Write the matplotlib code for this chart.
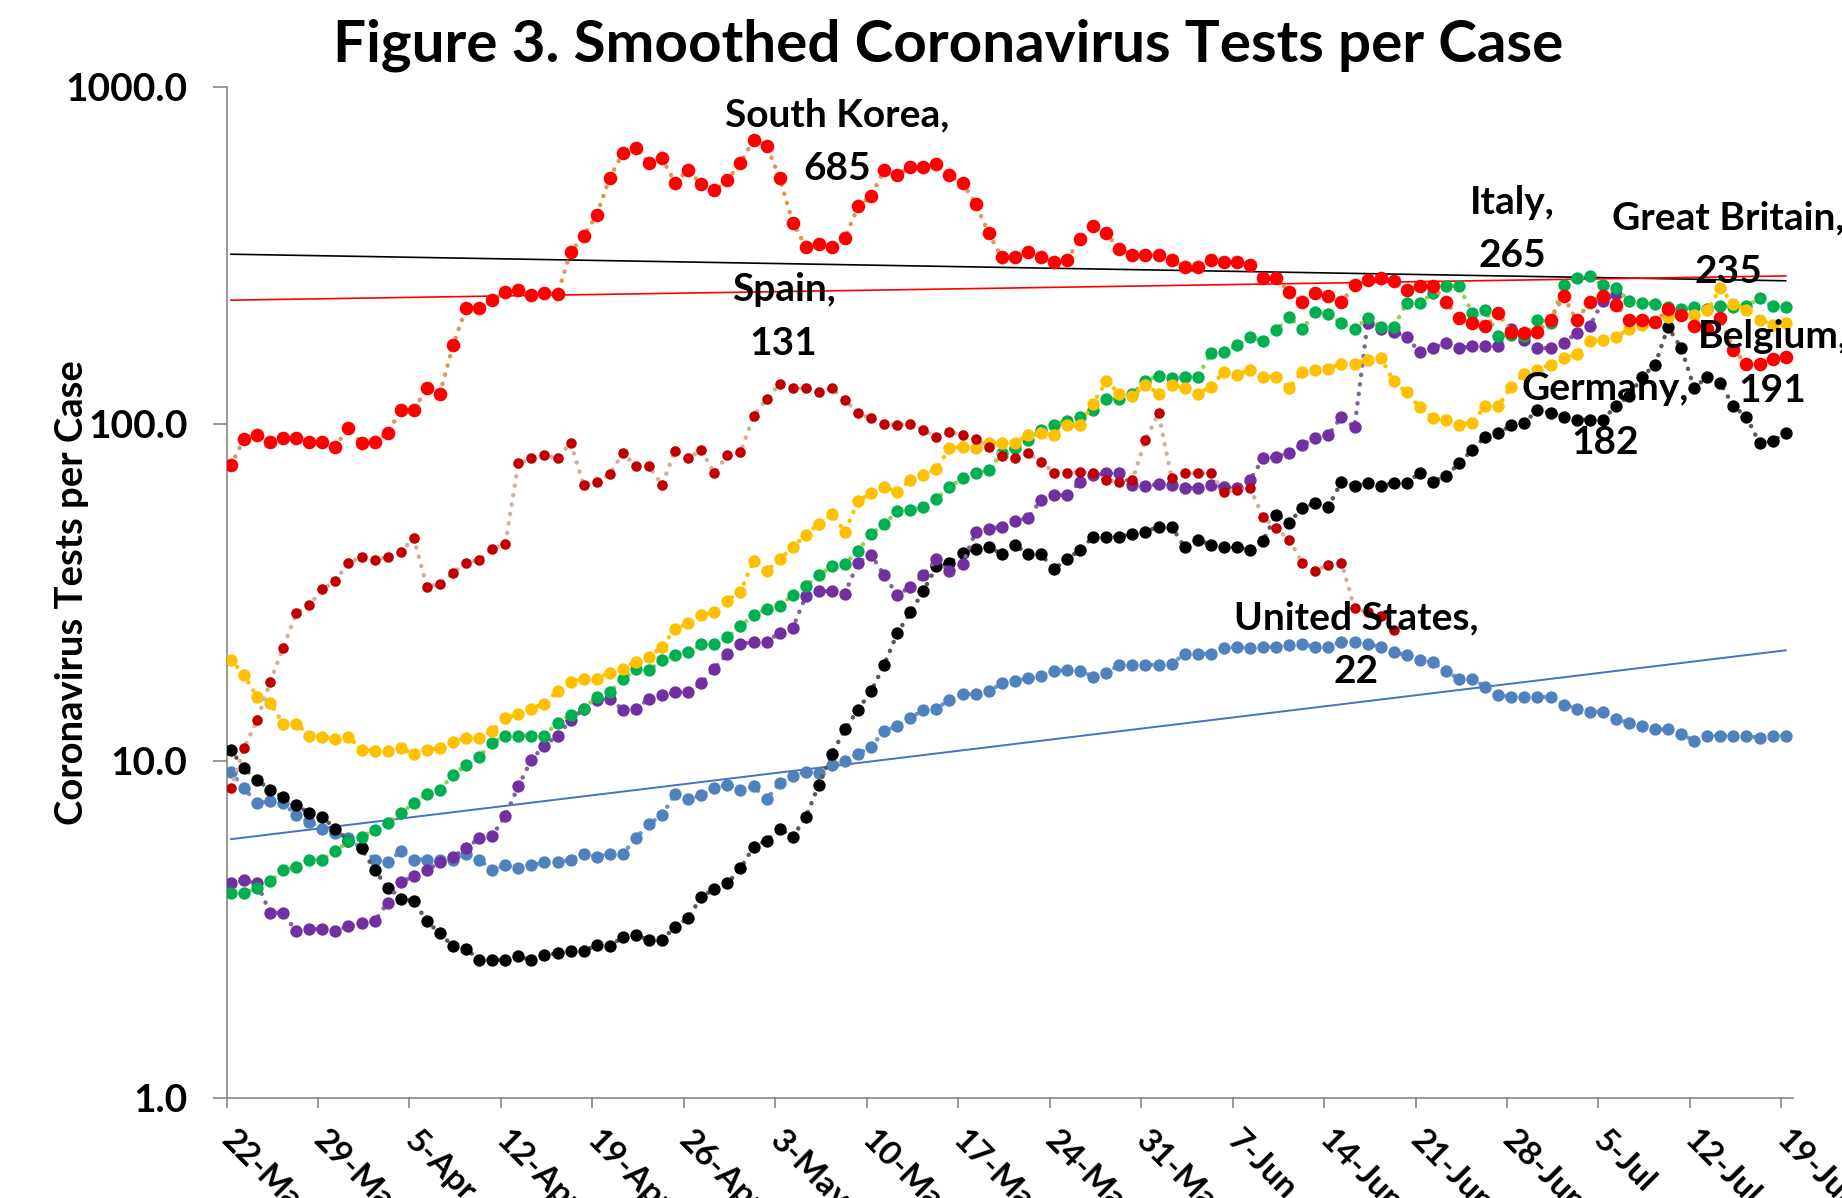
import matplotlib
matplotlib.use("Agg")
import matplotlib.pyplot as plt
import numpy as np
from matplotlib.ticker import NullLocator

plt.rcParams['font.family'] = ['Lato', 'DejaVu Sans']
plt.rcParams['font.weight'] = 'bold'

# x tick labels, one every 7 days from 22-Mar
date_labels = ['22-Mar', '29-Mar', '5-Apr', '12-Apr', '19-Apr', '26-Apr', '3-May',
               '10-May', '17-May', '24-May', '31-May', '7-Jun', '14-Jun', '21-Jun',
               '28-Jun', '5-Jul', '12-Jul', '19-Jul']

# smoothed tests per case, one value per day starting 22-Mar
south_korea = [75.5, 90, 92.8, 88.6, 90.8, 90.8, 88.6, 88.6, 85.7, 97.6,
               87.6, 88.6, 93.8, 110, 110, 128, 123, 171, 221, 221,
               233, 247, 250, 241, 245, 243, 323, 362, 417, 538,
               636, 661, 594, 614, 520, 567, 514, 493, 530, 594,
               697, 670, 538, 396, 336, 341, 336, 356, 442, 475,
               567, 548, 580, 580, 590, 548, 520, 450, 368, 312,
               312, 323, 312, 303, 307, 354, 388, 368, 330, 317,
               317, 317, 307, 293, 293, 307, 302, 302, 296, 271,
               271, 247, 230, 245, 239, 230, 258, 267, 271, 265,
               250, 257, 257, 230, 206, 199, 195, 213, 188, 186,
               188, 204, 239, 203, 230, 239, 225, 204, 204, 201,
               219, 211, 195, 192, 206, 166, 151, 151, 156, 158]

spain = [8.3, 10.9, 13.2, 17.1, 21.7, 27.4, 29.0, 32.3, 34.2, 38.8,
         40.2, 39.5, 40.2, 41.8, 45.8, 32.9, 33.5, 36.1, 38.8, 39.5,
         42.5, 44.0, 76.4, 79.0, 80.9, 79.0, 88.1, 65.9, 67.4, 71.1,
         81.9, 75.0, 75.0, 65.9, 83.4, 79.0, 83.7, 71.4, 80.9, 82.3,
         105.6, 118.4, 131.5, 127.6, 127.6, 124.8, 127.6, 117.8, 107.6, 104,
         100, 99.3, 100, 96, 91.3, 94.5, 92.8, 90.1, 85.7, 80.4,
         79, 81.9, 77.3, 71.7, 71.7, 72.1, 71.4, 68.2, 67.4, 68.2,
         89.7, 107.6, 69, 71.4, 71.4, 71.4, 63, 63.7, 64.5, 53.1,
         49, 45.3, 38.8, 36.7, 38.2, 38.8, 28.4, 27.6, 26.9, 24.5]

germany = [10.8, 9.5, 8.8, 8.2, 7.8, 7.4, 7.0, 6.8, 6.3, 5.8,
           5.5, 4.75, 4.2, 3.9, 3.85, 3.34, 3.08, 2.82, 2.77, 2.57,
           2.57, 2.57, 2.64, 2.56, 2.65, 2.69, 2.73, 2.73, 2.84, 2.83,
           3.0, 3.05, 2.94, 2.94, 3.22, 3.42, 3.95, 4.17, 4.33, 4.8,
           5.56, 5.8, 6.3, 5.96, 6.8, 8.5, 10.5, 12.4, 14.2, 16.1,
           19.3, 23.9, 27.6, 31.9, 37.8, 38.6, 41.5, 42.7, 43.1, 41.2,
           43.8, 41.2, 41.0, 37.1, 39.7, 42.3, 46.3, 46.3, 46.3, 47.2,
           47.9, 49.6, 49.6, 43.1, 45.3, 43.8, 43.1, 43.1, 42.3, 45.0,
           53.7, 51.0, 56.3, 58.2, 56.7, 67.4, 65.5, 66.7, 65.5, 66.7,
           66.7, 71.7, 67.4, 70.1, 76.4, 83.7, 91.7, 93.8, 99.3, 101,
           110, 108, 105, 103, 103, 103, 113, 121, 138, 150,
           194, 168, 128, 138, 132, 113, 105, 87.7, 89, 93.8]

belgium = [4.34, 4.42, 4.34, 3.54, 3.54, 3.12, 3.17, 3.17, 3.12, 3.24,
           3.3, 3.34, 3.8, 4.36, 4.56, 4.75, 5.0, 5.2, 5.5, 5.9,
           6.0, 6.87, 8.4, 10.1, 11.1, 11.9, 13.2, 14.3, 15.2, 15.3,
           14.2, 14.3, 15.3, 15.7, 16.0, 16.0, 17.0, 18.8, 20.8, 22.2,
           22.6, 22.6, 24.0, 24.8, 30.8, 31.9, 31.9, 31.4, 38.8, 40.9,
           35.6, 31.1, 32.8, 35.6, 39.7, 36.5, 38.4, 47.9, 48.7, 49.6,
           51.7, 52.5, 59.5, 61.5, 61.5, 67.4, 70.6, 71.4, 71.4, 65.9,
           65.5, 66.3, 65.9, 64.5, 64.5, 65.9, 65.0, 64.5, 68.2, 79,
           80, 81.9, 86.7, 90.6, 92.8, 105, 97.8, 199, 191, 188,
           181, 163, 168, 174, 168, 170, 170, 170, 192, 178,
           168, 168, 174, 186, 195, 231, 243]

italy = [4.05, 4.05, 4.2, 4.39, 4.75, 4.86, 5.1, 5.1, 5.4, 5.77,
         5.95, 6.24, 6.56, 7.0, 7.5, 8.0, 8.2, 9.1, 9.7, 10.3,
         11.3, 11.9, 11.9, 11.9, 11.9, 13.0, 13.7, 14.3, 15.5, 16.0,
         17.5, 18.7, 18.6, 19.9, 20.6, 21.1, 22.2, 22.2, 23.3, 25.1,
         27.1, 28.2, 28.8, 31.1, 33.1, 35.6, 37.8, 38.4, 42.1, 47.2,
         50.5, 55, 55.5, 56.7, 60, 65, 69, 71.4, 73.1, 81.9,
         84.8, 89.7, 96, 99.5, 101.9, 105, 110, 119, 119, 123,
         134, 139, 136.5, 138, 138, 162, 164, 171, 181, 176,
         190, 208, 191, 215, 212, 199, 191, 206, 194, 194,
         229, 229, 244, 257, 257, 213, 218, 182, 184, 182,
         204, 200, 258, 271, 274, 258, 253, 232, 229, 227,
         223, 219, 222, 219, 224, 223, 224, 236, 224, 222]

great_britain = [20.0, 18.0, 15.5, 14.9, 12.9, 12.9, 11.9, 11.8, 11.6, 11.8,
                 10.8, 10.7, 10.7, 10.9, 10.5, 10.8, 10.9, 11.4, 11.7, 11.7,
                 12.3, 13.4, 13.8, 14.3, 14.8, 16.1, 17.2, 17.5, 17.5, 18.3,
                 18.8, 19.7, 20.4, 21.8, 24.7, 25.6, 27.1, 27.7, 29.9, 31.8,
                 39.2, 36.5, 39.7, 43.1, 46.9, 50.5, 54.1, 47.9, 59, 62.3,
                 64.9, 63, 68.2, 70.6, 73.6, 84.8, 85.7, 84.8, 88, 87.6,
                 87.6, 92.8, 93.8, 92.8, 99.5, 99.5, 115, 134, 123, 121,
                 130.7, 123, 130.7, 128, 123, 129, 143, 140, 145, 138,
                 138, 128, 143, 145, 146, 151, 151, 155, 157, 134,
                 124, 112, 104, 103, 99.5, 101, 113, 113, 129, 141,
                 145, 150, 157, 161, 176, 178, 181, 192, 197, 201,
                 208, 211, 211, 218, 253, 227, 218, 204, 197, 199]

united_states = [9.3, 8.3, 7.5, 7.6, 7.5, 6.9, 6.6, 6.3, 6.1, 5.9,
                 5.5, 5.1, 5.0, 5.4, 5.1, 5.1, 5.1, 5.1, 5.3, 5.1,
                 4.75, 4.9, 4.8, 4.9, 5.0, 5.0, 5.1, 5.3, 5.2, 5.3,
                 5.3, 5.9, 6.5, 6.9, 8.0, 7.7, 7.9, 8.3, 8.5, 8.2,
                 8.4, 7.7, 8.6, 9.0, 9.3, 9.2, 9.7, 10.0, 10.5, 11.0,
                 12.3, 12.7, 13.4, 14.2, 14.3, 15.2, 15.8, 15.8, 16.1, 17.0,
                 17.3, 17.6, 17.9, 18.5, 18.6, 18.5, 17.8, 18.2, 19.3, 19.3,
                 19.3, 19.3, 19.4, 20.8, 20.8, 20.8, 21.6, 21.8, 21.6, 21.8,
                 21.8, 22.1, 22.2, 21.8, 21.8, 22.6, 22.6, 22.2, 21.8, 21.0,
                 20.6, 20.0, 19.6, 18.5, 17.5, 17.5, 16.6, 15.7, 15.5, 15.5,
                 15.5, 15.5, 14.7, 14.3, 14.0, 14.0, 13.3, 13.0, 12.7, 12.4,
                 12.4, 12.0, 11.5, 11.9, 11.9, 11.9, 11.9, 11.7, 11.9, 11.9]

# exponential trendlines (straight on the log axis): first and last day
trend_days = [0, 119]
trend_black = [319, 266]
trend_red = [233, 275]
trend_blue = [5.86, 21.3]

# data labels: text, day, value
label_text = ['South Korea,\n685', 'Spain,\n131', 'Italy,\n265', 'Great Britain,\n235',
              'Belgium,\n191', 'Germany,\n182', 'United States,\n22']
label_day = [46.4, 42.3, 98.1, 114.6, 118.0, 105.2, 86.1]
label_val = [689, 208, 379, 340, 151, 106, 22.1]

fig = plt.figure(figsize=(18.42, 11.98), dpi=100)
ax = fig.add_axes([0.123, 0.0835, 0.8504, 0.8439])

ax.plot(trend_days, trend_black, color='black', lw=1.2, zorder=2)
ax.plot(trend_days, trend_red, color='#FF0000', lw=1.2, zorder=2)
ax.plot(trend_days, trend_blue, color='#4472C4', lw=1.4, zorder=2)

# (values, marker colour, connector colour, marker size)
series = [
    (united_states, '#4F81BD', '#6A95CC', 8.9),
    (germany, '#000000', '#595959', 8.9),
    (belgium, '#7030A0', '#8064A2', 8.9),
    (italy, '#00B050', '#92D050', 8.9),
    (great_britain, '#FFC000', '#FFC000', 8.9),
    (spain, '#C00000', '#D8AE98', 7.6),
    (south_korea, '#FF0000', '#E3964F', 9.8),
]
for i, (vals, mc, lc, ms) in enumerate(series):
    x = np.arange(len(vals))
    ax.plot(x, vals, linestyle=(0, (0.05, 2.1)), lw=3.2, color=lc,
            dash_capstyle='round', zorder=3 + 2 * i)
    ax.plot(x, vals, 'o', ms=ms, color=mc, mew=0, zorder=4 + 2 * i)

for txt, d, v in zip(label_text, label_day, label_val):
    ax.text(d, v, txt, ha='center', va='center', fontsize=28, fontweight='bold',
            linespacing=1.65, zorder=30, clip_on=False)

ax.set_yscale('log')
ax.set_ylim(1, 1000)
ax.set_yticks([1, 10, 100, 1000])
ax.set_yticklabels(['1.0', '10.0', '100.0', '1000.0'])
ax.yaxis.set_minor_locator(NullLocator())

ax.set_xlim(-0.33, 119.56)
ax.set_xticks(np.arange(0, 120, 7) - 0.33)
ax.set_xticklabels(date_labels, rotation=-45, ha='left', va='center',
                   rotation_mode='anchor')

for side in ['top', 'right']:
    ax.spines[side].set_visible(False)
for side in ['left', 'bottom']:
    ax.spines[side].set_color('#868686')
    ax.spines[side].set_linewidth(1.2)

ax.tick_params(axis='y', length=10, width=1.2, color='#868686', pad=18, labelsize=28)
ax.tick_params(axis='x', length=7, width=1.2, color='#868686', pad=20, labelsize=24)

fig.text(0.515, 0.962, 'Figure 3. Smoothed Coronavirus Tests per Case',
         ha='center', va='center', fontsize=42, fontweight='bold')
fig.text(0.039, 0.505, 'Coronavirus Tests per Case', rotation=90,
         ha='center', va='center', fontsize=27.5, fontweight='bold')

fig.savefig('out.png', dpi=100)
